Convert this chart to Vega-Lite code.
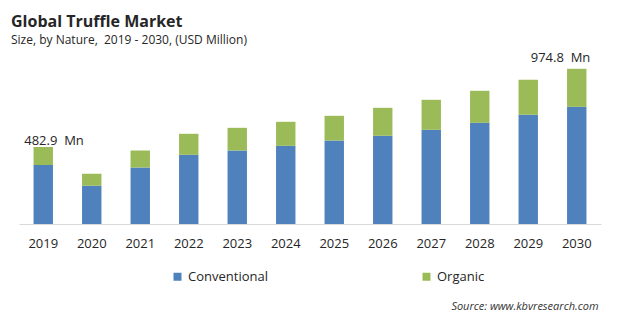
{
  "$schema": "https://vega.github.io/schema/vega-lite/v6.json",
  "width": 582,
  "height": 164,
  "autosize": "none",
  "padding": {"left": 19, "top": 60, "right": 19, "bottom": 98},
  "background": "white",
  "config": {
    "view": {"stroke": null},
    "font": "Open Sans"
  },
  "title": {
    "text": "Global Truffle Market",
    "subtitle": "Size, by Nature,\u00a0 2019 - 2030, (USD Million)",
    "anchor": "start",
    "frame": "group",
    "dx": -8,
    "offset": 6,
    "fontSize": 16,
    "fontWeight": "bold",
    "color": "#262626",
    "subtitleFontSize": 12,
    "subtitleColor": "#262626",
    "subtitlePadding": 5,
    "font": "Open Sans",
    "subtitleFont": "Open Sans"
  },
  "datasets": {
    "market": [
      {"year": "2019", "nature": "Conventional", "value": 369.9},
      {"year": "2019", "nature": "Organic", "value": 113.0},
      {"year": "2020", "nature": "Conventional", "value": 239.9},
      {"year": "2020", "nature": "Organic", "value": 75.4},
      {"year": "2021", "nature": "Conventional", "value": 354.8},
      {"year": "2021", "nature": "Organic", "value": 106.8},
      {"year": "2022", "nature": "Conventional", "value": 434.6},
      {"year": "2022", "nature": "Organic", "value": 131.9},
      {"year": "2023", "nature": "Conventional", "value": 461.6},
      {"year": "2023", "nature": "Organic", "value": 142.5},
      {"year": "2024", "nature": "Conventional", "value": 491.1},
      {"year": "2024", "nature": "Organic", "value": 150.7},
      {"year": "2025", "nature": "Conventional", "value": 524.4},
      {"year": "2025", "nature": "Organic", "value": 155.1},
      {"year": "2026", "nature": "Conventional", "value": 553.9},
      {"year": "2026", "nature": "Organic", "value": 175.8},
      {"year": "2027", "nature": "Conventional", "value": 591.6},
      {"year": "2027", "nature": "Organic", "value": 188.4},
      {"year": "2028", "nature": "Conventional", "value": 635.5},
      {"year": "2028", "nature": "Organic", "value": 201.0},
      {"year": "2029", "nature": "Conventional", "value": 685.8},
      {"year": "2029", "nature": "Organic", "value": 219.8},
      {"year": "2030", "nature": "Conventional", "value": 736.0},
      {"year": "2030", "nature": "Organic", "value": 238.8}
    ],
    "labels": [
      {"year": "2019", "total": 482.9, "label": "482.9\u00a0 Mn"},
      {"year": "2030", "total": 974.8, "label": "974.8\u00a0 Mn"}
    ]
  },
  "layer": [
    {
      "data": {"name": "market"},
      "mark": {"type": "bar"},
      "encoding": {
        "x": {
          "field": "year",
          "type": "ordinal",
          "scale": {"paddingInner": 0.6, "paddingOuter": 0.3},
          "axis": {
            "title": "Source: www.kbvresearch.com",
            "titleFont": "Open Sans",
            "titleFontStyle": "italic",
            "titleFontWeight": "normal",
            "titleFontSize": 11,
            "titleColor": "#333333",
            "titleAnchor": "end",
            "titleAlign": "right",
            "titleBaseline": "alphabetic",
            "titleX": 579,
            "titleY": 85,
            "labelAngle": 0,
            "labelFontSize": 13,
            "labelColor": "#262626",
            "labelPadding": 13,
            "ticks": false,
            "tickSize": 0,
            "domainColor": "#d9d9d9",
            "domainWidth": 1
          }
        },
        "y": {
          "field": "value",
          "type": "quantitative",
          "stack": "zero",
          "scale": {"domain": [0, 1030], "nice": false},
          "axis": null
        },
        "color": {
          "field": "nature",
          "type": "nominal",
          "scale": {"domain": ["Conventional", "Organic"], "range": ["#4f81bd", "#9bbb59"]},
          "legend": {
            "title": null,
            "orient": "none",
            "direction": "horizontal",
            "legendX": 152,
            "legendY": 210,
            "symbolType": "square",
            "symbolSize": 64,
            "symbolStrokeWidth": 0,
            "symbolOpacity": 1,
            "labelFontSize": 13,
            "labelColor": "#262626",
            "labelOffset": 4,
            "columnPadding": 152,
            "gridAlign": "all",
            "padding": 0
          }
        },
        "order": {"field": "nature", "sort": "ascending"}
      }
    },
    {
      "data": {"name": "labels"},
      "transform": [{"filter": "datum.year == '2019'"}],
      "mark": {"type": "text", "align": "left", "baseline": "alphabetic", "dx": -19, "dy": -2, "fontSize": 13, "color": "#262626"},
      "encoding": {
        "x": {"field": "year", "type": "ordinal"},
        "y": {"field": "total", "type": "quantitative"},
        "text": {"field": "label"}
      }
    },
    {
      "data": {"name": "labels"},
      "transform": [{"filter": "datum.year == '2030'"}],
      "mark": {"type": "text", "align": "left", "baseline": "alphabetic", "dx": -46, "dy": -7, "fontSize": 13, "color": "#262626"},
      "encoding": {
        "x": {"field": "year", "type": "ordinal"},
        "y": {"field": "total", "type": "quantitative"},
        "text": {"field": "label"}
      }
    }
  ]
}
